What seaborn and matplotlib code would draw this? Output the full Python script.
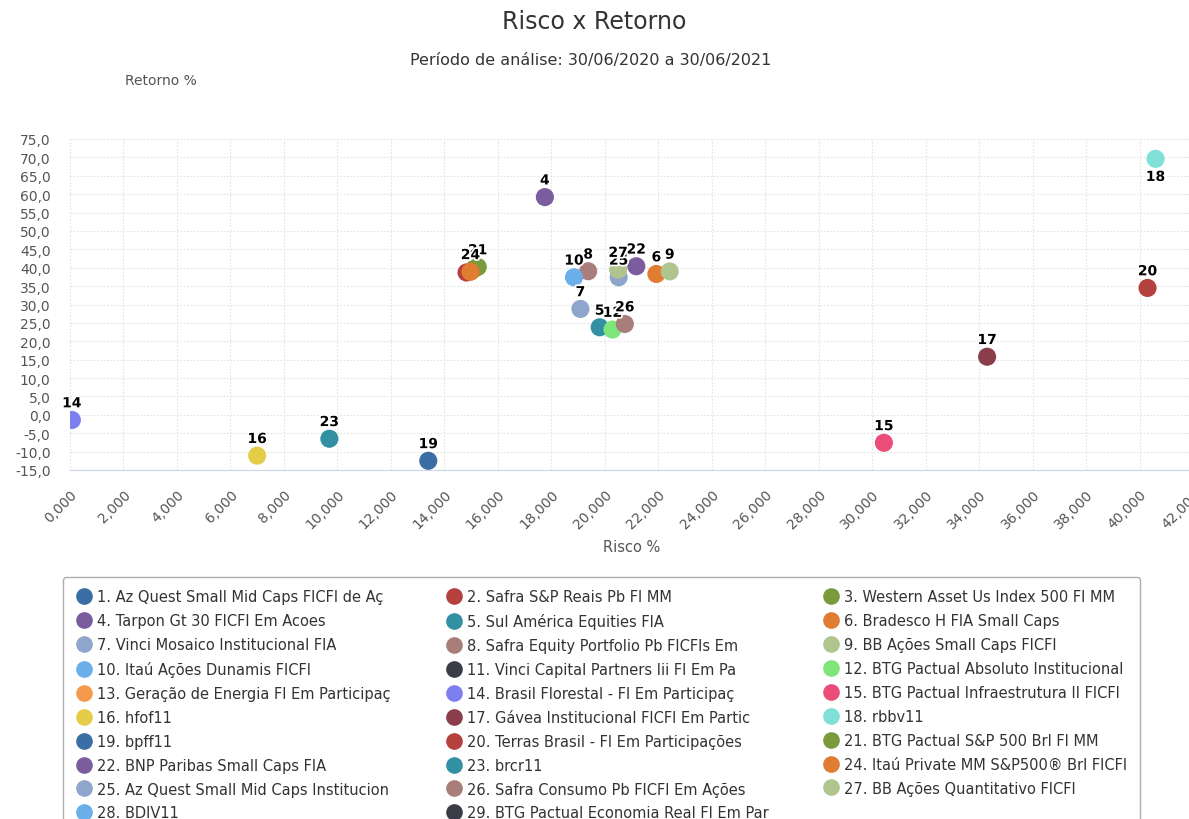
import numpy as np
import pandas as pd
import matplotlib.pyplot as plt
import matplotlib.patheffects as pe
from matplotlib.lines import Line2D
from matplotlib.ticker import FuncFormatter, MultipleLocator
import seaborn as sns

fundos = [
    "1. Az Quest Small Mid Caps FICFI de Aç",
    "2. Safra S&P Reais Pb FI MM",
    "3. Western Asset Us Index 500 FI MM",
    "4. Tarpon Gt 30 FICFI Em Acoes",
    "5. Sul América Equities FIA",
    "6. Bradesco H FIA Small Caps",
    "7. Vinci Mosaico Institucional FIA",
    "8. Safra Equity Portfolio Pb FICFIs Em",
    "9. BB Ações Small Caps FICFI",
    "10. Itaú Ações Dunamis FICFI",
    "11. Vinci Capital Partners Iii FI Em Pa",
    "12. BTG Pactual Absoluto Institucional",
    "13. Geração de Energia FI Em Participaç",
    "14. Brasil Florestal - FI Em Participaç",
    "15. BTG Pactual Infraestrutura II FICFI",
    "16. hfof11",
    "17. Gávea Institucional FICFI Em Partic",
    "18. rbbv11",
    "19. bpff11",
    "20. Terras Brasil - FI Em Participações",
    "21. BTG Pactual S&P 500 Brl FI MM",
    "22. BNP Paribas Small Caps FIA",
    "23. brcr11",
    "24. Itaú Private MM S&P500® Brl FICFI",
    "25. Az Quest Small Mid Caps Institucion",
    "26. Safra Consumo Pb FICFI Em Ações",
    "27. BB Ações Quantitativo FICFI",
    "28. BDIV11",
    "29. BTG Pactual Economia Real FI Em Par",
]
numeros = [str(i) for i in range(1, 30)]

nan = np.nan
risco = [nan, 14.83, 15.10, 17.76, 19.81, 21.93, 19.09, 19.38, 22.43, 18.85,
         nan, 20.29, nan, 0.07, 30.44, 7.00, 34.30, 40.60, 13.40, 40.30,
         15.25, 21.18, 9.70, 14.98, 20.52, 20.75, 20.50, nan, nan]
retorno = [nan, 38.7, 39.6, 59.2, 23.8, 38.3, 28.8, 39.05, 39.0, 37.4,
           nan, 23.2, nan, -1.4, -7.6, -11.1, 15.8, 69.6, -12.5, 34.5,
           40.2, 40.4, -6.5, 38.9, 37.4, 24.7, 39.5, nan, nan]

cores = ["#3a6ea5", "#b5413f", "#7a9a3c", "#7b5c9e", "#3390a3", "#e07d33",
         "#8fa6cc", "#a97e7a", "#b0c48e", "#6aaeea", "#3a3d48", "#7ee57a",
         "#f59a4d", "#7d7ff0", "#ec4d78", "#e5cd4a", "#8b3d4c", "#7fe0d8",
         "#3a6ea5", "#b5413f", "#7a9a3c", "#7b5c9e", "#3390a3", "#e07d33",
         "#8fa6cc", "#a97e7a", "#b0c48e", "#6aaeea", "#3a3d48"]

# labels hidden by overlap in the original
rotulos_ocultos = ["2", "3"]

df = pd.DataFrame({"fundo": fundos, "num": numeros, "risco": risco, "retorno": retorno})
pal = dict(zip(fundos, cores))

sns.set_style("white")
plt.rcParams["font.family"] = ["DejaVu Sans"]

fig = plt.figure(figsize=(11.89, 8.2), dpi=100)
ax = fig.add_axes([70 / 1189, 1 - 471 / 820, (1193 - 70) / 1189, (471 - 140) / 820])

pts = df.dropna()
sns.scatterplot(data=pts, x="risco", y="retorno", hue="fundo", palette=pal,
                s=170, edgecolor="none", legend=False, ax=ax, zorder=3)

for _, r in pts.iterrows():
    if r["num"] in rotulos_ocultos:
        continue
    dy = -13 if r["num"] == "18" else 12
    ax.annotate(r["num"], (r["risco"], r["retorno"]), xytext=(0, dy),
                textcoords="offset points", ha="center", va="center",
                fontsize=10, fontweight="bold", color="black", zorder=5,
                path_effects=[pe.withStroke(linewidth=2.5, foreground="white")])

ax.set_xlim(0, 42)
ax.set_ylim(-15, 75)
ax.xaxis.set_major_locator(MultipleLocator(2))
ax.yaxis.set_major_locator(MultipleLocator(5))
ax.xaxis.set_major_formatter(FuncFormatter(lambda v, p: f"{v:,.3f}".replace(".", ",")))
ax.yaxis.set_major_formatter(FuncFormatter(lambda v, p: f"{v:.1f}".replace(".", ",")))
ax.grid(True, color="#e3e3e3", linestyle=(0, (1.5, 1.5)), linewidth=0.8)
ax.set_axisbelow(True)
for s in ["top", "right", "left"]:
    ax.spines[s].set_visible(False)
ax.spines["bottom"].set_color("#ccd6eb")
ax.tick_params(axis="x", colors="#ccd6eb", length=9, width=1, labelcolor="#555555",
               labelsize=10, labelrotation=45, pad=3)
ax.tick_params(axis="y", length=0, labelcolor="#555555", labelsize=10, pad=14)
for lbl in ax.get_xticklabels():
    lbl.set_ha("right")
    lbl.set_rotation_mode("anchor")
ax.set_xlabel("")
ax.set_ylabel("")

fig.text(594 / 1189, 1 - 22 / 820, "Risco x Retorno", ha="center", va="center",
         fontsize=17, color="#333333")
fig.text(591 / 1189, 1 - 60 / 820, "Período de análise: 30/06/2020 a 30/06/2021",
         ha="center", va="center", fontsize=11.5, color="#333333")
fig.text(125 / 1189, 1 - 81 / 820, "Retorno %", ha="left", va="center",
         fontsize=10, color="#555555")
fig.text(632 / 1189, 1 - 548 / 820, "Risco %", ha="center", va="center",
         fontsize=10.5, color="#555555")

handles = [Line2D([], [], marker="o", linestyle="none", markersize=12,
                  markerfacecolor=c, markeredgecolor="none") for c in cores]
ordem = list(range(0, 29, 3)) + list(range(1, 29, 3)) + list(range(2, 29, 3))
leg = fig.legend([handles[i] for i in ordem], [fundos[i] for i in ordem],
                 ncol=3, loc="upper left", bbox_to_anchor=(63 / 1189, 1 - 578 / 820),
                 borderaxespad=0, fontsize=10.5, frameon=True, fancybox=True,
                 edgecolor="#999999", handletextpad=0.3, handlelength=1.2,
                 labelspacing=0.61, columnspacing=3.7, borderpad=0.85,
                 labelcolor="#333333")
leg.get_frame().set_linewidth(1)

fig.savefig("out.png", dpi=100)
